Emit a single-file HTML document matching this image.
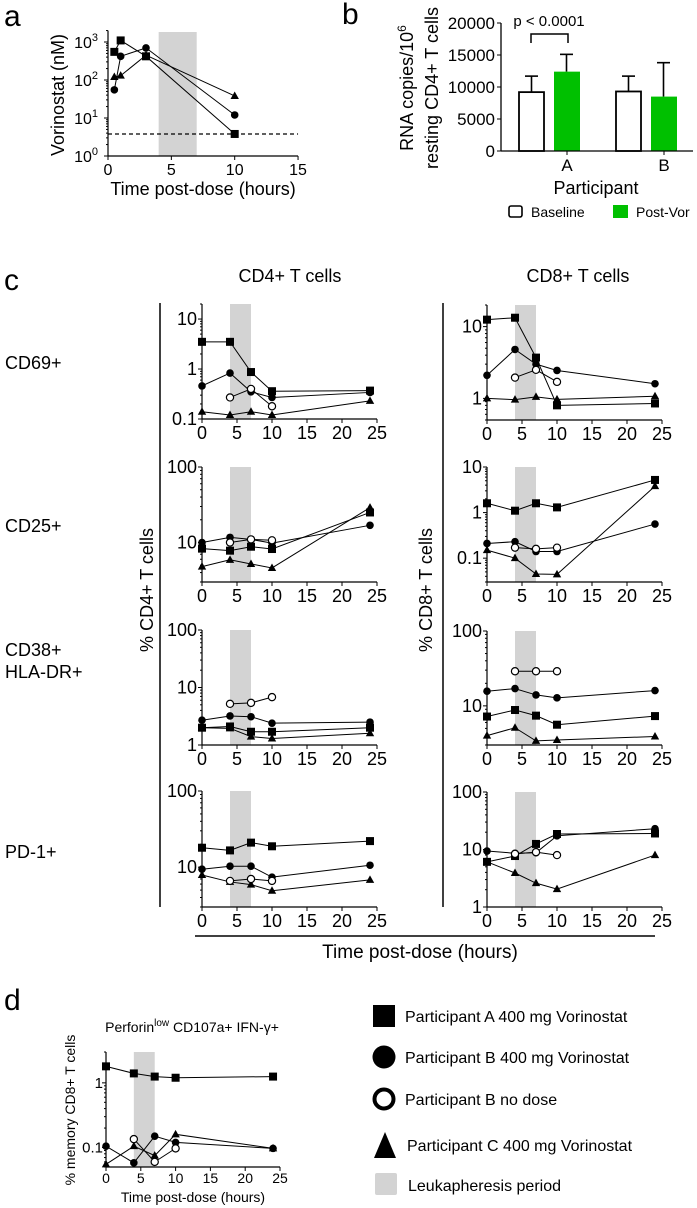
<!DOCTYPE html>
<html><head><meta charset="utf-8">
<style>
html,body{margin:0;padding:0;background:#fff;}
svg{display:block;font-family:"Liberation Sans",Arial,sans-serif;}
</style></head>
<body>
<svg id="fig" width="697" height="1208" viewBox="0 0 697 1208" xmlns="http://www.w3.org/2000/svg"></svg>
<script>
// ---------- Panel a data ----------
const aTimes = [0.5, 1, 3, 10];
const aSquare = [550, 1100, 420, 3.8];
const aCircle = [55, 420, 700, 12];
const aTriangle = [120, 130, 450, 38];
const aLimit = 3.8;
const aXTicks = [0, 5, 10, 15];

// ---------- Panel b data ----------
const bCategories = ["A", "B"];
const bBaseline = [9200, 9300];
const bBaselineErr = [11700, 11700];
const bPostVor = [12400, 8500];
const bPostVorErr = [15100, 13800];
const bTicks = [0, 5000, 10000, 15000, 20000];

// ---------- Panel c data ----------
const tFull = [0, 4, 7, 10, 24];
const tNoDose = [4, 7, 10];
const cTicks = [0, 5, 10, 15, 20, 25];

const cd4_cd69_A = [3.5, 3.5, 0.87, 0.36, 0.37];
const cd4_cd69_B = [0.46, 0.83, 0.35, 0.27, 0.34];
const cd4_cd69_Bn = [0.27, 0.4, 0.18];
const cd4_cd69_C = [0.14, 0.12, 0.14, 0.12, 0.23];

const cd4_cd25_A = [8.3, 7.8, 8.8, 8.2, 25];
const cd4_cd25_B = [10, 11.7, 11, 9.8, 16.9];
const cd4_cd25_Bn = [10, 11, 10.7];
const cd4_cd25_C = [4.8, 5.9, 5.2, 4.6, 29];

const cd4_cd38_A = [2.0, 2.1, 1.7, 1.7, 2.0];
const cd4_cd38_B = [2.7, 3.2, 3.1, 2.4, 2.5];
const cd4_cd38_Bn = [5.2, 5.4, 6.8];
const cd4_cd38_C = [2.0, 1.95, 1.4, 1.3, 1.6];

const cd4_pd1_A = [18, 16.6, 21, 18.8, 22];
const cd4_pd1_B = [9.4, 10.3, 10.3, 7.4, 10.6];
const cd4_pd1_Bn = [6.6, 7, 6.6];
const cd4_pd1_C = [7.9, 6.4, 5.9, 4.9, 6.8];

const cd8_cd69_A = [12.5, 13.3, 3.7, 0.8, 0.85];
const cd8_cd69_B = [2.1, 4.8, 3.0, 2.45, 1.6];
const cd8_cd69_Bn = [1.95, 2.5, 1.7];
const cd8_cd69_C = [1.0, 0.96, 1.05, 0.97, 1.07];

const cd8_cd25_A = [1.6, 1.1, 1.6, 1.3, 5.2];
const cd8_cd25_B = [0.21, 0.23, 0.14, 0.14, 0.56];
const cd8_cd25_Bn = [0.17, 0.16, 0.17];
const cd8_cd25_C = [0.15, 0.1, 0.045, 0.044, 3.8];

const cd8_cd38_A = [7.2, 8.8, 7.4, 5.6, 7.3];
const cd8_cd38_B = [15.7, 17, 14, 12.8, 16];
const cd8_cd38_Bn = [29, 29, 29];
const cd8_cd38_C = [4.0, 5.1, 3.4, 3.5, 3.9];

const cd8_pd1_A = [6.1, 7.7, 12.5, 18.6, 19];
const cd8_pd1_B = [9.4, 8.6, 8.8, 17.3, 23];
const cd8_pd1_Bn = [8.4, 9, 8];
const cd8_pd1_C = [6.1, 3.9, 2.6, 2.05, 8];

// ---------- Panel d data ----------
const d_A = [1.8, 1.4, 1.25, 1.2, 1.25];
const d_B = [0.105, 0.058, 0.15, 0.12, 0.097];
const d_Bn = [0.135, 0.06, 0.097];
const d_C = [0.055, 0.105, 0.075, 0.16, 0.097];

const NS = "http://www.w3.org/2000/svg";
const svg = document.getElementById("fig");
function mk(tag, attrs, parent) {
  const e = document.createElementNS(NS, tag);
  for (const k in attrs) e.setAttribute(k, attrs[k]);
  (parent || svg).appendChild(e);
  return e;
}
function txt(s, x, y, size, anchor, parent, extra) {
  const t = mk("text", Object.assign({x: x, y: y, "font-size": size, "text-anchor": anchor || "start", fill: "#000"}, extra || {}), parent);
  t.textContent = s;
  return t;
}
function marker(type, x, y, parent) {
  let m;
  if (type === "sq") m = mk("rect", {x: x - 4, y: y - 4, width: 8, height: 8, fill: "#000"}, parent);
  else if (type === "ci") m = mk("circle", {cx: x, cy: y, r: 3.8, fill: "#000"}, parent);
  else if (type === "oc") m = mk("circle", {cx: x, cy: y, r: 3.6, fill: "#fff", stroke: "#000", "stroke-width": 1.2}, parent);
  else m = mk("polygon", {points: (x) + "," + (y - 4.5) + " " + (x + 4.2) + "," + (y + 3) + " " + (x - 4.2) + "," + (y + 3), fill: "#000"}, parent);
  
  
  return m;
}
function series(g, times, vals, type, sx, sy, name) {
  const sg = mk("g", {}, g);
  
  
  const pts = times.map((t, i) => sx(t) + "," + sy(vals[i])).join(" ");
  mk("polyline", {points: pts, fill: "none", stroke: "#000", "stroke-width": 1}, sg);
  times.forEach((t, i) => marker(type, sx(t), sy(vals[i]), sg));
}
function logAxisY(g, x, sy, ymin, ymax, labelFn) {
  mk("line", {x1: x, y1: sy(ymax), x2: x, y2: sy(ymin), stroke: "#000", "stroke-width": 1.2}, g);
  const lo = Math.floor(Math.log10(ymin)), hi = Math.ceil(Math.log10(ymax));
  for (let d = lo; d <= hi; d++) {
    for (let m = 1; m < 10; m++) {
      const v = m * Math.pow(10, d);
      if (v < ymin * 0.999 || v > ymax * 1.001) continue;
      const len = m === 1 ? 4 : 2;
      mk("line", {x1: x - len, y1: sy(v), x2: x, y2: sy(v), stroke: "#000", "stroke-width": 1}, g);
      if (m === 1) labelFn(v, d, sy(v));
    }
  }
}
function fmt(v) { return v >= 1 ? String(Math.round(v)) : String(v); }

// ================= Panel a =================
(function () {
  const g = mk("g", {});
  
  
  txt("a", 4, 26, 30, "start", g);
  const X0 = 108, XS = 12.67, Y0 = 156, YD = 38;
  const sx = t => X0 + t * XS;
  const sy = v => Y0 - Math.log10(v) * YD;
  mk("rect", {x: sx(4), y: 32, width: sx(7) - sx(4), height: Y0 - 32, fill: "#d3d3d3"}, g);
  mk("line", {x1: X0, y1: sy(aLimit), x2: sx(15), y2: sy(aLimit), stroke: "#000", "stroke-width": 1.2, "stroke-dasharray": "4,3"}, g);
  logAxisY(g, X0, sy, 1, 2000, (v, d, y) => {
    const t = txt("10", X0 - 10, y + 6, 16, "end", g);
    const s = mk("tspan", {dy: -7, "font-size": 11}, t); s.textContent = d;
    
  });
  mk("line", {x1: X0, y1: Y0, x2: sx(15), y2: Y0, stroke: "#000", "stroke-width": 1.2}, g);
  aXTicks.forEach(t => {
    mk("line", {x1: sx(t), y1: Y0, x2: sx(t), y2: Y0 + 4, stroke: "#000"}, g);
    txt(String(t), sx(t), Y0 + 19, 16, "middle", g);
  });
  txt("Time post-dose (hours)", sx(7.5), 195, 18, "middle", g);
  const yt = txt("Vorinostat (nM)", 0, 0, 18, "middle", g, {transform: "translate(64,95) rotate(-90)"});
  
  series(g, aTimes, aTriangle, "tr", sx, sy, "series-participant-c");
  series(g, aTimes, aCircle, "ci", sx, sy, "series-participant-b");
  series(g, aTimes, aSquare, "sq", sx, sy, "series-participant-a");
})();

// ================= Panel b =================
(function () {
  const g = mk("g", {});
  
  
  txt("b", 342, 24, 30, "start", g);
  const AX = 501, Y0 = 151, PX = 0.0064;
  const sy = v => Y0 - v * PX;
  const groupC = [567, 664];
  const bw = 25;
  bCategories.forEach((c, i) => {
    const xb = groupC[i] - 48;
    const xg = groupC[i] - 13;
    mk("line", {x1: xb + bw / 2, y1: sy(bBaseline[i]), x2: xb + bw / 2, y2: sy(bBaselineErr[i]), stroke: "#000", "stroke-width": 1.6}, g);
    mk("line", {x1: xb + bw / 2 - 6.5, y1: sy(bBaselineErr[i]), x2: xb + bw / 2 + 6.5, y2: sy(bBaselineErr[i]), stroke: "#000", "stroke-width": 1.6}, g);
    const r1 = mk("rect", {x: xb, y: sy(bBaseline[i]), width: bw, height: Y0 - sy(bBaseline[i]), fill: "#fff", stroke: "#000", "stroke-width": 1.8}, g);
    
    
    mk("line", {x1: xg + bw / 2, y1: sy(bPostVor[i]), x2: xg + bw / 2, y2: sy(bPostVorErr[i]), stroke: "#000", "stroke-width": 1.6}, g);
    mk("line", {x1: xg + bw / 2 - 6.5, y1: sy(bPostVorErr[i]), x2: xg + bw / 2 + 6.5, y2: sy(bPostVorErr[i]), stroke: "#000", "stroke-width": 1.6}, g);
    const r2 = mk("rect", {x: xg, y: sy(bPostVor[i]), width: bw + 1, height: Y0 - sy(bPostVor[i]), fill: "#00c000"}, g);
    
    
    mk("line", {x1: groupC[i], y1: Y0, x2: groupC[i], y2: Y0 + 4, stroke: "#000"}, g);
    txt(c, groupC[i], Y0 + 20, 17, "middle", g);
  });
  mk("line", {x1: AX, y1: sy(20000), x2: AX, y2: Y0, stroke: "#000", "stroke-width": 1.3}, g);
  mk("line", {x1: AX, y1: Y0, x2: 693, y2: Y0, stroke: "#000", "stroke-width": 1.3}, g);
  bTicks.forEach(v => {
    mk("line", {x1: AX - 4, y1: sy(v), x2: AX, y2: sy(v), stroke: "#000"}, g);
    txt(String(v), AX - 6, sy(v) + 6, 17, "end", g);
  });
  mk("polyline", {points: "531,43 531,34 568,34 568,43", fill: "none", stroke: "#000", "stroke-width": 1.5}, g);
  txt("p < 0.0001", 549, 26, 15, "middle", g);
  txt("Participant", 596, 194, 18, "middle", g);
  const t1 = txt("RNA copies/10", 0, 0, 18, "middle", g, {transform: "translate(413,88) rotate(-90)"});
  const sup = mk("tspan", {dy: -7, "font-size": 12}, t1); sup.textContent = "6";
  
  txt("resting CD4+ T cells", 0, 0, 18, "middle", g, {transform: "translate(438,88) rotate(-90)"});
  const lg = mk("g", {}, g);
  
  
  mk("rect", {x: 509, y: 206, width: 13, height: 11, rx: 2, fill: "#fff", stroke: "#000", "stroke-width": 1.6}, lg);
  txt("Baseline", 531, 217, 14, "start", lg);
  mk("rect", {x: 613, y: 205, width: 15, height: 13, fill: "#00c000"}, lg);
  txt("Post-Vor", 636, 217, 14, "start", lg);
})();

// ================= Panel c =================
function smallPanel(name, x0, top, bottom, ymin, ymax, A, B, Bn, C) {
  const g = mk("g", {});
  
  
  const XS = 7;
  const sx = t => x0 + t * XS;
  const k = (bottom - top) / (Math.log10(ymax) - Math.log10(ymin));
  const sy = v => bottom - (Math.log10(v) - Math.log10(ymin)) * k;
  const sh = mk("rect", {x: sx(4), y: top, width: sx(7) - sx(4), height: bottom - top, fill: "#d3d3d3"}, g);
  
  logAxisY(g, x0, sy, ymin, ymax, (v, d, y) => {
    txt(fmt(v), x0 - 5, y + 6, 18, "end", g);
  });
  mk("line", {x1: x0, y1: bottom, x2: sx(25), y2: bottom, stroke: "#000", "stroke-width": 1.2}, g);
  cTicks.forEach(t => {
    mk("line", {x1: sx(t), y1: bottom, x2: sx(t), y2: bottom + 4, stroke: "#000"}, g);
    txt(String(t), sx(t), bottom + 20, 18, "middle", g);
  });
  series(g, tFull, C, "tr", sx, sy, "series-participant-c");
  series(g, tFull, A, "sq", sx, sy, "series-participant-a");
  series(g, tFull, B, "ci", sx, sy, "series-participant-b");
  series(g, tNoDose, Bn, "oc", sx, sy, "series-participant-b-no-dose");
}
txt("c", 4, 290, 30);
txt("CD4+ T cells", 290, 282, 18, "middle");
txt("CD8+ T cells", 578, 282, 18, "middle");
txt("CD69+", 5, 369, 18);
txt("CD25+", 5, 532, 18);
txt("CD38+", 5, 656, 18);
txt("HLA-DR+", 5, 678, 18);
txt("PD-1+", 5, 858, 18);
mk("line", {x1: 160, y1: 303, x2: 160, y2: 907, stroke: "#000", "stroke-width": 1.5});
mk("line", {x1: 443, y1: 303, x2: 443, y2: 907, stroke: "#000", "stroke-width": 1.5});
txt("% CD4+ T cells", 0, 0, 18, "middle", null, {transform: "translate(153,590) rotate(-90)"});
txt("% CD8+ T cells", 0, 0, 18, "middle", null, {transform: "translate(432,590) rotate(-90)"});
mk("line", {x1: 195, y1: 936, x2: 655, y2: 936, stroke: "#000", "stroke-width": 1.5});
txt("Time post-dose (hours)", 420, 958, 19, "middle");

smallPanel("cd4-cd69-chart", 202, 304, 419, 0.1, 20, cd4_cd69_A, cd4_cd69_B, cd4_cd69_Bn, cd4_cd69_C);
smallPanel("cd4-cd25-chart", 202, 467, 582, 3, 100, cd4_cd25_A, cd4_cd25_B, cd4_cd25_Bn, cd4_cd25_C);
smallPanel("cd4-cd38-chart", 202, 630, 745, 1, 100, cd4_cd38_A, cd4_cd38_B, cd4_cd38_Bn, cd4_cd38_C);
smallPanel("cd4-pd1-chart", 202, 791, 907, 3, 100, cd4_pd1_A, cd4_pd1_B, cd4_pd1_Bn, cd4_pd1_C);
smallPanel("cd8-cd69-chart", 487, 305, 420, 0.5, 20, cd8_cd69_A, cd8_cd69_B, cd8_cd69_Bn, cd8_cd69_C);
smallPanel("cd8-cd25-chart", 487, 467, 582, 0.03, 10, cd8_cd25_A, cd8_cd25_B, cd8_cd25_Bn, cd8_cd25_C);
smallPanel("cd8-cd38-chart", 487, 631, 745, 3, 100, cd8_cd38_A, cd8_cd38_B, cd8_cd38_Bn, cd8_cd38_C);
smallPanel("cd8-pd1-chart", 487, 792, 907, 1, 100, cd8_pd1_A, cd8_pd1_B, cd8_pd1_Bn, cd8_pd1_C);

// ================= Panel d =================
(function () {
  const g = mk("g", {});
  
  
  txt("d", 4, 1010, 30, "start", g);
  const t = txt("Perforin", 192, 1032, 14, "middle", g);
  const s1 = mk("tspan", {dy: -6, "font-size": 10}, t); s1.textContent = "low";
  const s2 = mk("tspan", {dy: 6}, t); s2.textContent = " CD107a+ IFN-\u03b3+";
  
  const X0 = 106, top = 1052, bottom = 1167, ymin = 0.05, ymax = 3;
  const sx = tt => X0 + tt * 6.96;
  const k = (bottom - top) / (Math.log10(ymax) - Math.log10(ymin));
  const sy = v => bottom - (Math.log10(v) - Math.log10(ymin)) * k;
  mk("rect", {x: sx(4), y: top, width: sx(7) - sx(4), height: bottom - top, fill: "#d3d3d3"}, g);
  logAxisY(g, X0, sy, ymin, ymax, (v, d, y) => {
    txt(fmt(v), X0 - 3, y + 5, 15, "end", g);
  });
  mk("line", {x1: X0, y1: bottom, x2: sx(25), y2: bottom, stroke: "#000", "stroke-width": 1.2}, g);
  cTicks.forEach(tt => {
    mk("line", {x1: sx(tt), y1: bottom, x2: sx(tt), y2: bottom + 4, stroke: "#000"}, g);
    txt(String(tt), sx(tt), bottom + 16, 14, "middle", g);
  });
  txt("Time post-dose (hours)", 193, 1202, 14, "middle", g);
  txt("% memory CD8+ T cells", 0, 0, 14, "middle", g, {transform: "translate(75,1110) rotate(-90)"});
  series(g, tFull, d_C, "tr", sx, sy, "series-participant-c");
  series(g, tFull, d_A, "sq", sx, sy, "series-participant-a");
  series(g, tFull, d_B, "ci", sx, sy, "series-participant-b");
  series(g, tNoDose, d_Bn, "oc", sx, sy, "series-participant-b-no-dose");
})();

// ================= Legend =================
(function () {
  const g = mk("g", {});
  
  
  const tx = 405;
  mk("rect", {x: 373, y: 1005, width: 22, height: 22, fill: "#000"}, g);
  txt("Participant A 400 mg Vorinostat", tx, 1022, 16, "start", g);
  mk("circle", {cx: 384, cy: 1057, r: 11.5, fill: "#000"}, g);
  txt("Participant B 400 mg Vorinostat", tx, 1063, 16, "start", g);
  mk("circle", {cx: 384, cy: 1099, r: 9.5, fill: "#fff", stroke: "#000", "stroke-width": 4}, g);
  txt("Participant B no dose", tx, 1105, 16, "start", g);
  mk("polygon", {points: "385,1132 396,1158 374,1158", fill: "#000"}, g);
  txt("Participant C 400 mg Vorinostat", 407, 1151, 16, "start", g);
  mk("rect", {x: 375, y: 1173, width: 22, height: 22, rx: 2, fill: "#d3d3d3"}, g);
  txt("Leukapheresis period", 408, 1191, 16, "start", g);
})();
</script>
</body></html>
